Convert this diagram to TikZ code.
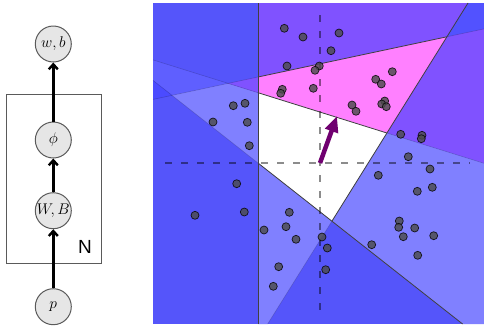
\RequirePackage{fix-cm}
\documentclass[tikz,border=0pt]{standalone}
\usepackage{fontspec}
\newfontfamily\nfont{Liberation Sans}
\usetikzlibrary{arrows.meta}
\definecolor{bgblue}{RGB}{85,85,250}
\definecolor{lightband}{RGB}{95,95,255}
\definecolor{darkband}{RGB}{75,75,255}
\definecolor{lav}{RGB}{128,128,255}
\definecolor{purp}{RGB}{128,82,255}
\definecolor{cornerblue}{RGB}{82,82,255}
\definecolor{pinkr}{RGB}{255,128,255}
\definecolor{arrowpurple}{RGB}{112,0,112}
\definecolor{nodefill}{RGB}{230,230,230}
\definecolor{nodeline}{RGB}{90,90,90}
\tikzset{
  gm/.style={circle, draw=nodeline, line width=1pt, fill=nodefill, minimum size=36pt, inner sep=0pt, font=\fontsize{15.5}{18}\selectfont},
  plate/.style={draw=nodeline, line width=1pt},
  edge/.style={line width=2.4pt, -{Straight Barb[length=5pt,width=9pt]}},
  hardline/.style={draw=black!75, line width=0.8pt},
  softline/.style={draw=black, opacity=0.18, line width=0.6pt},
  guide/.style={draw=black, opacity=0.45, line width=1.2pt, dash pattern=on 6.5pt off 9.5pt},
  dot/.style={fill=black!70, fill opacity=0.82, draw=black, draw opacity=0.8, line width=0.7pt},
  normalarrow/.style={draw=arrowpurple, line width=4.5pt, -{Triangle[length=16pt,width=13pt]}}
}
\begin{document}
\begin{tikzpicture}[x=1pt,y=-1pt]
\useasboundingbox (0,0) rectangle (484,333);
% ---------- left: graphical model ----------
\draw[plate] (6,94) rectangle (101.7,263.3);
\node[gm] (wb) at (53.3,44) {$w,b$};
\node[gm] (phi) at (53.3,140) {$\phi$};
\node[gm] (WB) at (53.3,210.7) {$W,B$};
\node[gm] (p) at (53.3,306.7) {$p$};
\node[font=\nfont\fontsize{19}{19}\selectfont] (N) at (85,247) {N};
\draw[edge] (p) -- (WB);
\draw[edge] (WB) -- (phi);
\draw[edge] (phi) -- (wb);
% ---------- right: partition of the plane ----------
\fill[bgblue] (153,3) rectangle (484,324);
% left of the vertical line
\fill[lightband] (153,59.9) -- (228.1,83.4) -- (172,95.3) -- (153,80.4) -- cycle;
\fill[darkband] (153,80.4) -- (172,95.3) -- (153,99.4) -- cycle;
\fill[lav] (172,95.3) -- (228.1,83.4) -- (258,92.7) -- (258,163) -- cycle;
\fill[purp] (228.1,83.4) -- (258,77) -- (258,92.7) -- cycle;
% right of the vertical line
\fill[purp] (258,3) -- (468,3) -- (446.8,36.8) -- (258,77) -- cycle;
\fill[cornerblue] (468,3) -- (484,3) -- (484,28.9) -- (446.8,36.8) -- cycle;
\fill[purp] (446.8,36.8) -- (484,28.9) -- (484,163.3) -- (386.9,133) -- cycle;
\fill[pinkr] (258,77) -- (446.8,36.8) -- (386.9,133) -- (258,92.7) -- cycle;
\fill[white] (258,92.7) -- (386.9,133) -- (331.9,221.2) -- (258,163) -- cycle;
\fill[lav] (386.9,133) -- (484,163.3) -- (484,324) -- (462.6,324) -- (331.9,221.2) -- cycle;
\fill[lav] (258,163) -- (331.9,221.2) -- (267.6,324) -- (258,324) -- cycle;
% faint boundaries
\draw[softline] (153,99.4) -- (258,77);
\draw[softline] (446.8,36.8) -- (484,28.9);
\draw[softline] (153,59.9) -- (258,92.7);
\draw[softline] (386.9,133) -- (484,163.3);
\draw[softline] (153,80.4) -- (258,163);
\draw[softline] (331.9,221.2) -- (267.6,324);
% dark boundaries
\draw[hardline] (258,3) -- (258,324);
\draw[hardline] (468,3) -- (331.9,221.2);
\draw[hardline] (258,77) -- (446.8,36.8);
\draw[hardline] (258,92.7) -- (386.9,133);
\draw[hardline] (258,163) -- (462.6,324);
% dashed axes
\draw[guide] (165,163) -- (470,163);
\draw[guide] (320,15) -- (320,310);
% data points
\foreach \x/\y in {284.3/28.3, 303/37, 339/33, 331/50.7, 287/66, 319.3/66, 315/70.3,
  282.3/89.3, 280.7/93.3, 313.3/88.3, 392.3/71.7, 375.7/79.3, 381.3/84, 352/105,
  356/111.3, 384.7/101, 381.7/104, 386.3/106.7, 245/103.3, 233.3/105.7, 213/122,
  247.3/122.3, 249.3/145.7, 400.7/134.3, 422/135.3, 421.3/138.7, 408.3/156.7,
  430/169, 432.3/187.3, 417.3/191.3, 378.3/175.3, 399.3/221, 398.7/227.3,
  414.7/228, 403.3/236.7, 433.7/235.7, 371.7/244.7, 417.7/255.3, 322/237,
  327.3/248, 325.7/269.7, 236.7/183.7, 244.3/212, 195/215.3, 289.3/212.3,
  286/226.7, 264/230, 296/239.3, 278.7/266.7, 273.3/286.3}
  \filldraw[dot] (\x,\y) circle (4pt);
% normal vector
\coordinate (o) at (320,163);
\coordinate (n) at (337,116);
\draw[normalarrow] (o) -- (n);
\end{tikzpicture}
\end{document}
